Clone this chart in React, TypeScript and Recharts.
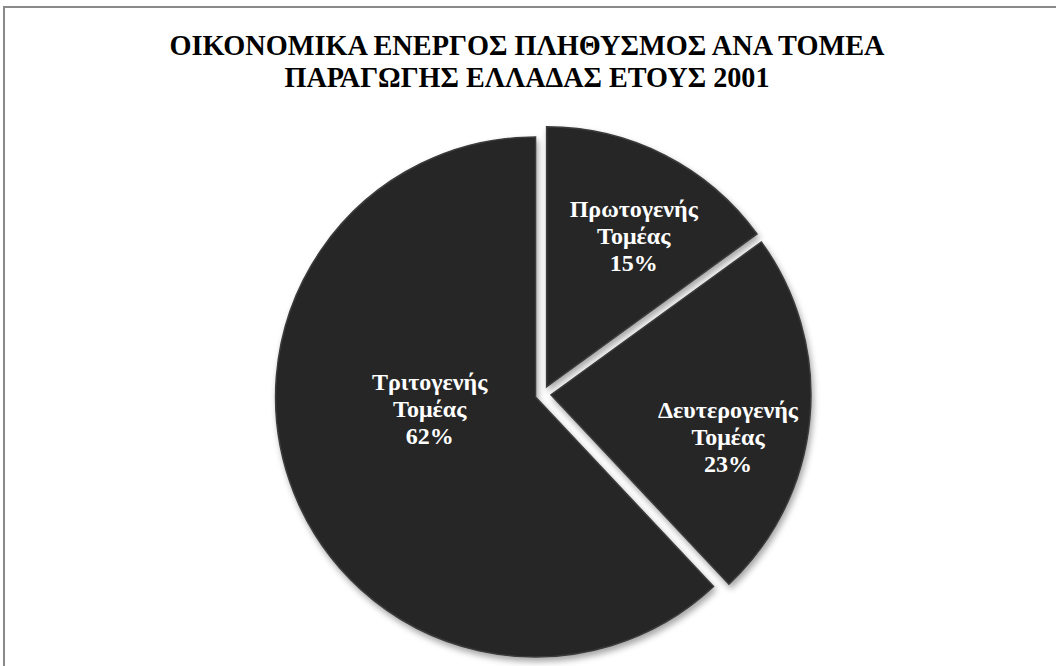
import React from 'react';
import { PieChart, Pie, Sector } from 'recharts';

const titleLines = [
  'ΟΙΚΟΝΟΜΙΚΑ ΕΝΕΡΓΟΣ ΠΛΗΘΥΣΜΟΣ ΑΝΑ ΤΟΜΕΑ',
  'ΠΑΡΑΓΩΓΗΣ ΕΛΛΑΔΑΣ ΕΤΟΥΣ 2001',
];
const sectors = ['Πρωτογενής Τομέας', 'Δευτερογενής Τομέας', 'Τριτογενής Τομέας'];
const shares = [15, 23, 62];

const data = sectors.map((name, i) => ({ name, value: shares[i] }));

// label placement tweaks (excel "best fit"), relative to the slice mid angle
const labelLayout = [
  { shift: 3, r: 0.67 },
  { shift: 8, r: 0.7 },
  { shift: 15, r: 0.41 },
];
// title lines are a bit condensed in the original
const titleWidths = [715, 485];

const EXPLODE = 8;
const RAD = Math.PI / 180;
const FONT = '"Liberation Serif", "Times New Roman", serif';

const ExplodedSector = (props: any) => {
  const { cx, cy, midAngle, innerRadius, outerRadius, startAngle, endAngle, fill } = props;
  const dx = EXPLODE * Math.cos(-midAngle * RAD);
  const dy = EXPLODE * Math.sin(-midAngle * RAD);
  return (
    <Sector
      cx={cx + dx}
      cy={cy + dy}
      innerRadius={innerRadius}
      outerRadius={outerRadius}
      startAngle={startAngle}
      endAngle={endAngle}
      fill={fill}
      stroke="#3b3b3b"
      strokeWidth={1.5}
      filter="url(#pieShadow)"
    />
  );
};

const renderLabel = (props: any) => {
  const { cx, cy, midAngle, outerRadius, percent, name, index } = props;
  const lay = labelLayout[index];
  const ex = cx + EXPLODE * Math.cos(-midAngle * RAD);
  const ey = cy + EXPLODE * Math.sin(-midAngle * RAD);
  const a = (midAngle - lay.shift) * RAD;
  const x = ex + outerRadius * lay.r * Math.cos(-a);
  const y = ey + outerRadius * lay.r * Math.sin(-a);
  const words = String(name).split(' ');
  return (
    <text
      x={x}
      y={y - 19}
      textAnchor="middle"
      fill="#ffffff"
      fontFamily={FONT}
      fontWeight="bold"
      fontSize={24}
    >
      <tspan x={x} dy={0}>{words[0]}</tspan>
      <tspan x={x} dy={27}>{words[1]}</tspan>
      <tspan x={x} dy={27}>{`${Math.round(percent * 100)}%`}</tspan>
    </text>
  );
};

export default function App() {
  return (
    <div style={{ position: 'fixed', inset: 0, overflow: 'hidden', background: '#fff' }}>
      <svg width={0} height={0} style={{ position: 'absolute' }}>
        <defs>
          <filter id="pieShadow" x="-20%" y="-20%" width="140%" height="140%">
            <feDropShadow dx={2} dy={4} stdDeviation={3} floodColor="#000" floodOpacity={0.35} />
          </filter>
        </defs>
      </svg>
      <div
        style={{
          position: 'absolute',
          left: 3,
          top: 6,
          width: 1100,
          height: 700,
          border: '2px solid #8a8a8a',
          background: '#fff',
        }}
      >
        <svg
          width={1100}
          height={120}
          style={{ position: 'absolute', left: 0, top: 0, pointerEvents: 'none' }}
        >
          {titleLines.map((t, i) => (
            <text
              key={i}
              x={522}
              y={47 + i * 32}
              textAnchor="middle"
              fontFamily={FONT}
              fontWeight="bold"
              fontSize={29}
              textLength={titleWidths[i]}
              lengthAdjust="spacingAndGlyphs"
              fill="#000"
            >
              {t}
            </text>
          ))}
        </svg>
        <PieChart width={1100} height={700} style={{ position: 'absolute', left: 0, top: 0 }}>
          <Pie
            data={data}
            dataKey="value"
            nameKey="name"
            cx={533}
            cy={381}
            outerRadius={260}
            startAngle={90}
            endAngle={-270}
            fill="#282828"
            stroke="none"
            shape={ExplodedSector}
            label={renderLabel}
            labelLine={false}
            isAnimationActive={false}
          />
        </PieChart>
      </div>
    </div>
  );
}
